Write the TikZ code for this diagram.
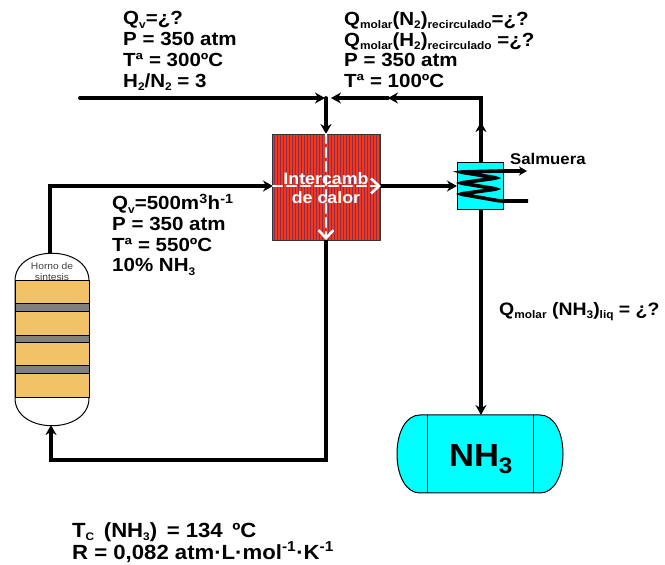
\documentclass[tikz,border=0pt]{standalone}
\usepackage{fontspec}
\setmainfont[FakeStretch=1.08]{Liberation Sans}
\usepackage{tkz-euclide}
\usetikzlibrary{arrows.meta}
\definecolor{hornored}{HTML}{F0391A}
\definecolor{stripe}{HTML}{8A2A55}
\definecolor{catalyst}{HTML}{F2C266}
\definecolor{tankcyan}{HTML}{00FFFF}
\newcommand{\lowtxt}[1]{\raisebox{-3.5pt}{\fontsize{11}{11}\selectfont #1}}
\newcommand{\tightlines}{\lineskiplimit=-10pt\relax}
\tikzset{
  pipe/.style={line width=3.8pt,-{Stealth[length=10pt,width=11pt]}},
  plainpipe/.style={line width=3.8pt,line cap=rect},
  hotflow/.style={white,line width=2.6pt,dash pattern=on 9pt off 5pt,-{Straight Barb[length=8pt,width=15pt]}},
  info/.style={font=\bfseries\fontsize{19}{20.7}\selectfont\tightlines,align=left,anchor=north west,inner sep=0pt},
}
\begin{document}
\begin{tikzpicture}[scale=.3514]
\useasboundingbox (0,0) rectangle (66.5,56.5);
% points of the pipes
\tkzDefPoint(8,46.7){FeedIn}
\tkzDefPoint(32.5,46.7){JoinL}
\tkzDefPoint(33.1,46.7){JoinR}
\tkzDefPoint(32.6,46.7){Join}
\tkzDefPoint(38.8,46.7){MidTop}
\tkzDefPoint(48.1,46.7){CornerTop}
\tkzDefPoint(48.1,44.3){MidUp}
\tkzDefPoint(48.1,40.2){HxTop}
\tkzDefPoint(48.1,35.5){HxBottom}
\tkzDefPoint(45.7,37.9){HxLeft}
\tkzDefPoint(48.1,15){TankTop}
\tkzDefPoint(32.6,43.1){RedTop}
\tkzDefPoint(32.6,32.5){RedBottom}
\tkzDefPoint(27.3,37.9){RedLeft}
\tkzDefPoint(38.1,37.9){RedRight}
\tkzDefPoint(5,31.2){HornoTop}
\tkzDefPoint(5,37.9){CornerLeft}
\tkzDefPoint(32.6,10.5){CornerBack}
\tkzDefPoint(5.1,10.5){CornerLow}
\tkzDefPoint(5.1,14){HornoBottom}
% intercambiador
\tkzDefPoint(27.3,32.5){A}
\tkzDefPoint(38.1,32.5){B}
\tkzDefPoint(38.1,43.1){C}
\tkzDefPoint(27.3,43.1){D}
\tkzFillPolygon[fill=hornored](A,B,C,D)
\foreach \i in {0,...,35}
  \draw[stripe,line width=.7pt] (27.45+.3*\i,32.5) -- (27.45+.3*\i,43.1);
\tkzDrawPolygon[line width=1pt,black!80](A,B,C,D)
% horno
\draw[line width=1pt,fill=white] (1.5,28.4) .. controls (1.5,32.1) and (8.9,32.1) .. (8.9,28.4)
  -- (8.9,16.7) .. controls (8.9,13) and (1.5,13) .. (1.5,16.7) -- cycle;
\node[font=\fontsize{9.5}{11}\selectfont,align=center,black!75] (horno) at (5.2,29.3) {Horno de\\sintesis};
\foreach \a/\b/\c in {26.1/28.4/catalyst,22.9/25.3/catalyst,19.9/22.2/catalyst,16.7/19.1/catalyst,25.3/26.1/black!50,22.2/22.9/black!50,19.1/19.9/black!50}
  \draw[line width=1pt,fill=\c] (1.5,\a) rectangle (8.9,\b);
% tanque
\draw[line width=1pt,fill=tankcyan] (42.7,15) -- (54,15) .. controls (55.4,15) and (56.3,13.3) .. (56.3,11.1)
  .. controls (56.3,8.9) and (55.4,7.2) .. (54,7.2) -- (42,7.2)
  .. controls (40.6,7.2) and (39.7,8.9) .. (39.7,11.1) .. controls (39.7,13.3) and (40.6,15) .. (42,15) -- cycle;
\draw[line width=1pt] (42.7,15) -- (42.7,7.2) (53.3,15) -- (53.3,7.2);
\node[font=\bfseries\fontsize{32}{36}\selectfont] (nh3) at (48.1,10.6) {NH\textsubscript{3}};
% tuberias
\tkzDrawSegment[pipe](FeedIn,JoinL)
\tkzDrawSegment[plainpipe](CornerTop,HxTop)
\tkzDrawSegment[pipe](CornerTop,MidTop)
\tkzDrawSegment[pipe](MidTop,JoinR)
\tkzDrawSegment[pipe](HxTop,MidUp)
\tkzDrawSegment[pipe](Join,RedTop)
\tkzDrawSegment[pipe](RedRight,HxLeft)
\tkzDrawSegment[pipe](HxBottom,TankTop)
\draw[pipe] (HornoTop) |- (RedLeft);
\draw[pipe] (RedBottom) |- (CornerLow) -- (HornoBottom);
% flujos internos
\tkzDrawSegment[hotflow](RedLeft,RedRight)
\tkzDrawSegment[hotflow](RedTop,RedBottom)
\node[white,font=\bfseries\fontsize{16.5}{19}\selectfont,align=center] (intercamb) at (32.6,37.7) {Intercamb\\de calor};
% condensador
\draw[line width=1pt,fill=tankcyan] (45.7,35.5) rectangle (50.3,40.2);
\draw[line width=3.6pt,rounded corners=2pt,-{Stealth[length=8pt,width=9pt]}] (52.8,36.4) -- (50,36.4) -- (46,37.1)
  -- (49.7,37.6) -- (46,38.2) -- (49.7,38.7) -- (46,39.3) -- (50,39.4) -- (52.7,39.4);
% textos
\node[info] (entrada) at (12.3,55.35) {Q\lowtxt{v}=¿?\\P = 350 atm\\Tª = 300ºC\\H\lowtxt{2}/N\lowtxt{2} = 3};
\node[info] (recirculado) at (34.4,55.35) {Q\lowtxt{molar}(N\lowtxt{2})\lowtxt{recirculado}=¿?\\Q\lowtxt{molar}(H\lowtxt{2})\lowtxt{recirculado} =¿?\\P = 350 atm\\Tª = 100ºC};
\node[info] (salida) at (11.2,37.1) {Q\lowtxt{v}=500m\textsuperscript{3}h\textsuperscript{-1}\\P = 350 atm\\Tª = 550ºC\\10\% NH\lowtxt{3}};
\node[info,font=\bfseries\fontsize{15.5}{17}\selectfont] (salmuera) at (51,41.2) {Salmuera};
\node[info,font=\bfseries\fontsize{18}{20}\selectfont] (liquido) at (49.9,26.3) {Q\lowtxt{molar} (NH\lowtxt{3})\lowtxt{liq} = ¿?};
\node[info,font=\bfseries\fontsize{20.5}{22}\selectfont\tightlines] (datos) at (7.2,4.3) {T\lowtxt{C}\, (NH\lowtxt{3})\, = 134\, ºC\\R = 0,082 atm·L·mol\textsuperscript{-1}·K\textsuperscript{-1}};
\end{tikzpicture}
\end{document}
